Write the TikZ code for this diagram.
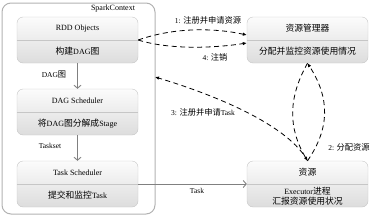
\documentclass[tikz,border=0pt]{standalone}
\usepackage{fontspec}
\setmainfont{Liberation Serif}
\newfontfamily\cjk[Scale=1.1]{Noto Sans CJK SC}
\newcommand{\zh}[1]{{\cjk #1}}
\usetikzlibrary{arrows.meta}

\begin{document}
\begin{tikzpicture}[x=1pt, y=1pt,
    box/.style={draw=gray!45, rounded corners=6pt, top color=gray!3,
      bottom color=gray!27, minimum width=121pt, minimum height=46pt, inner sep=0pt},
    txt/.style={font=\fontsize{8}{10}\selectfont, inner sep=1pt, align=center},
    lbl/.style={font=\fontsize{7.5}{9}\selectfont, inner sep=1pt},
    flow/.style={-{Straight Barb[length=3pt,width=7pt]}, gray, line width=0.9pt},
    msg/.style={-{Latex[length=4pt,width=3.5pt]}, line width=0.8pt,
      dash pattern=on 5pt off 3.5pt},
  ]
    \useasboundingbox (0,0) rectangle (372,218);

    % SparkContext
    \node[draw=gray!60, line width=1pt, rounded corners=9pt, minimum width=153pt,
      minimum height=211pt, inner sep=0pt] (sc) at (78.5,109.5) {};
    \node[txt] (sc-title) at (113,209) {SparkContext};

    \node[box] (rdd) at (77.5,178) {};
    \draw[gray!45] (rdd.west) -- (rdd.east);
    \node[txt] (rdd-top) at ([yshift=11.5pt]rdd.center) {RDD Objects};
    \node[txt] (rdd-bot) at ([yshift=-11.5pt]rdd.center) {\zh{构建}DAG\zh{图}};

    \node[box] (dag) at (77.5,106) {};
    \draw[gray!45] (dag.west) -- (dag.east);
    \node[txt] (dag-top) at ([yshift=11.5pt]dag.center) {DAG Scheduler};
    \node[txt] (dag-bot) at ([yshift=-11.5pt]dag.center) {\zh{将}DAG\zh{图分解成}Stage};

    \node[box] (ts) at (77.5,34) {};
    \draw[gray!45] (ts.west) -- (ts.east);
    \node[txt] (ts-top) at ([yshift=11.5pt]ts.center) {Task Scheduler};
    \node[txt] (ts-bot) at ([yshift=-11.5pt]ts.center) {\zh{提交和监控}Task};

    \draw[flow] (rdd.south) -- (dag.north);
    \node[lbl] (l-dag) at (54,143) {DAG\zh{图}};
    \draw[flow] (dag.south) -- (ts.north);
    \node[lbl] (l-taskset) at (50,72) {Taskset};

    % Cluster side
    \node[box] (rm) at (307.5,178) {};
    \draw[gray!45] (rm.west) -- (rm.east);
    \node[txt] (rm-top) at ([yshift=11.5pt]rm.center) {\zh{资源管理器}};
    \node[txt] (rm-bot) at ([yshift=-11.5pt]rm.center) {\zh{分配并监控资源使用情况}};

    \node[box] (res) at (307.5,34) {};
    \draw[gray!45] (res.west) -- (res.east);
    \node[txt] (res-top) at ([yshift=11.5pt]res.center) {\zh{资源}};
    \node[txt] (res-bot) at ([yshift=-12pt]res.center) {Executor\zh{进程}\\\zh{汇报资源使用状况}};

    \draw[flow] (ts.east) -- (res.west);
    \node[lbl] (l-task) at (197,27) {Task};

    % Messages
    \coordinate (rm-in1) at ([yshift=5pt]rm.west);
    \coordinate (rm-in4) at ([yshift=-3pt]rm.west);
    \coordinate (sc-in3) at (155,141);

    \draw[msg] (rdd.east) .. controls (175,191) and (215,190) .. (rm-in1);
    \draw[msg] (rdd.east) .. controls (170,168) and (215,170) .. (rm-in4);
    \draw[msg] (rm.south) .. controls (288,120) and (288,90) .. (res.north);
    \draw[msg] (res.north) .. controls (330,90) and (330,120) .. (rm.south);
    \draw[msg] (res.north) .. controls (290,90) and (225,120) .. (sc-in3);

    \node[lbl] (l-1) at (208,198) {1: \zh{注册并申请资源}};
    \node[lbl] (l-4) at (215,161) {4: \zh{注销}};
    \node[lbl] (l-3) at (203,106) {3: \zh{注册并申请}Task};
    \node[lbl] (l-2) at (349,71) {2: \zh{分配资源}};
\end{tikzpicture}
\end{document}
